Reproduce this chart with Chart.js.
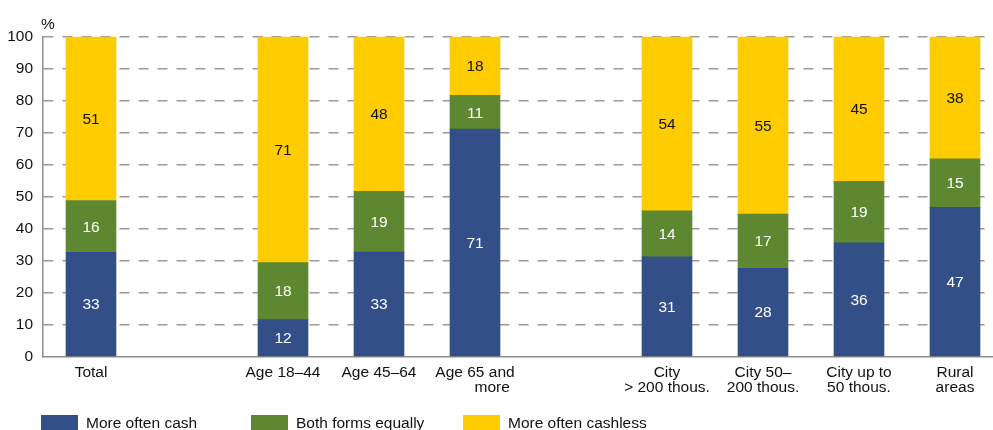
<!DOCTYPE html>
<html>
<head>
<meta charset="utf-8">
<script src="https://cdn.jsdelivr.net/npm/chart.js@4"></script>
<style>
    html, body { margin: 0; padding: 0; background: #fff; overflow: hidden; }
    #wrap { position: relative; width: 1003px; height: 430px; }
</style>
</head>
<body>
<div id="wrap"><canvas id="chart"></canvas></div>
<script>
const categories = [
    'Total', '', 'Age 18–44', 'Age 45–64', ['Age 65 and', '        more'], '',
    ['City', '> 200 thous.'], ['City 50–', '200 thous.'], ['City up to', '50 thous.'], ['Rural', 'areas']
];
// shares in % (labels are the rounded values)
const moreOftenCash = [32.6, null, 11.6, 32.7, 71.1, null, 31.2, 27.6, 35.6, 46.7];
const bothFormsEqually = [16.2, null, 17.8, 19.0, 10.6, null, 14.4, 17.0, 19.2, 15.1];
const moreOftenCashless = [51.2, null, 70.6, 48.3, 18.3, null, 54.4, 55.4, 45.2, 38.2];
const seriesNames = ['More often cash', 'Both forms equally', 'More often cashless'];
const yTicks = [0, 10, 20, 30, 40, 50, 60, 70, 80, 90, 100];

const FONT = "'Liberation Sans', Arial, sans-serif";
const FS = 15.5;
const COLORS = ['#325087', '#5D8731', '#FFCC00'];
const LABEL_COLORS = ['#ffffff', '#ffffff', '#111111'];

// values written in the middle of each segment
const segmentLabels = {
    id: 'segmentLabels',
    afterDatasetsDraw (chart) {
        const ctx = chart.ctx;
        ctx.save();
        ctx.font = FS + 'px ' + FONT;
        ctx.textAlign = 'center';
        ctx.textBaseline = 'middle';
        chart.data.datasets.forEach((ds, i) => {
            const meta = chart.getDatasetMeta(i);
            meta.data.forEach((bar, j) => {
                const v = ds.data[j];
                if (v === null) return;
                const { x, y, base } = bar.getProps(['x', 'y', 'base'], true);
                ctx.fillStyle = LABEL_COLORS[i];
                ctx.fillText(String(Math.round(v)), x, (y + base) / 2 + 1);
            });
        });
        ctx.restore();
    }
};

// "%" unit above the axis and the legend row at the bottom
const extras = {
    id: 'extras',
    afterDraw (chart) {
        const ctx = chart.ctx;
        ctx.save();
        ctx.font = FS + 'px ' + FONT;
        ctx.fillStyle = '#111';
        ctx.textAlign = 'left';
        ctx.textBaseline = 'alphabetic';
        ctx.fillText('%', 41, 29);
        const xs = [41, 251, 463];
        chart.data.datasets.forEach((ds, i) => {
            ctx.fillStyle = ds.backgroundColor;
            ctx.fillRect(xs[i], 415, 37, 16);
            ctx.fillStyle = '#111';
            ctx.fillText(ds.label, xs[i] + 45, 428);
        });
        ctx.restore();
    }
};

const datasets = [moreOftenCash, bothFormsEqually, moreOftenCashless].map((values, i) => ({
    label: seriesNames[i],
    data: values,
    backgroundColor: COLORS[i],
    borderWidth: 0,
    barThickness: 50
}));

new Chart(document.getElementById('chart'), {
    type: 'bar',
    data: { labels: categories, datasets: datasets },
    options: {
        responsive: true,
        maintainAspectRatio: false,
        animation: false,
        layout: { padding: { top: 36.7, right: 0, bottom: 0, left: 0 } },
        plugins: {
            legend: { display: false },
            tooltip: { enabled: false }
        },
        scales: {
            x: {
                stacked: true,
                grid: { display: false, drawTicks: false },
                border: { display: true, color: '#8c8c8c', width: 1.5 },
                ticks: {
                    color: '#111',
                    font: { family: FONT, size: FS, lineHeight: 1.0 },
                    padding: 8,
                    maxRotation: 0,
                    autoSkip: false
                },
                afterFit: (scale) => { scale.height = 73.3; }
            },
            y: {
                stacked: true,
                min: 0,
                max: 100,
                afterBuildTicks: (scale) => { scale.ticks = yTicks.map(v => ({ value: v })); },
                grid: {
                    drawTicks: false,
                    color: (c) => c.tick && c.tick.value === 0 ? 'rgba(0,0,0,0)' : '#9a9a9a',
                    lineWidth: 1.6
                },
                border: { display: true, color: '#8c8c8c', width: 1.5, dash: [10, 9] },
                ticks: {
                    color: '#111',
                    font: { family: FONT, size: FS },
                    padding: 10
                },
                afterFit: (scale) => { scale.width = 43; }
            }
        }
    },
    plugins: [segmentLabels, extras]
});
</script>
</body>
</html>
